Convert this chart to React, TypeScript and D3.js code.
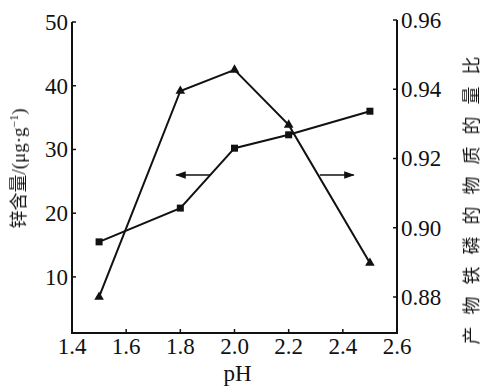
import React from "react";
import * as d3 from "d3";

const pH = [1.5, 1.8, 2.0, 2.2, 2.5];
const zinc = [15.5, 20.8, 30.2, 32.3, 36.0];
const ratio = [0.88, 0.9395, 0.9456, 0.9297, 0.8898];
const xTicks = [1.4, 1.6, 1.8, 2.0, 2.2, 2.4, 2.6];
const leftTicks = [10, 20, 30, 40, 50];
const rightTicks = [0.88, 0.9, 0.92, 0.94, 0.96];
// arrows: [fromPH, toPH, zinc level]
const arrowLeft = [1.91, 1.785, 26.0];
const arrowRight = [2.315, 2.44, 26.0];

const W = 485, H = 388;
const FONT = "'Liberation Serif', 'DejaVu Serif', serif";
const CJK = "'Noto Sans CJK SC', sans-serif";

export default function App() {
  const x = d3.scaleLinear().domain([1.4, 2.6]).range([72, 397]);
  const yL = d3.scaleLinear().domain([1.2, 50]).range([333, 22]);
  const yR = d3.scaleLinear().domain([0.8696, 0.96]).range([333, 20]);

  const lineL = d3.line<number>().x((_, i) => x(pH[i])).y((d) => yL(d));
  const lineR = d3.line<number>().x((_, i) => x(pH[i])).y((d) => yR(d));
  const tri = d3.symbol().type(d3.symbolTriangle).size(40)();

  const bottom = yL.range()[0];
  return (
    <svg width={W} height={H} style={{ position: "absolute", left: 0, top: 0, background: "#fff" }}>
      <defs>
        <marker id="ah" viewBox="0 0 10 10" refX="9" refY="5" markerWidth="7" markerHeight="7" orient="auto">
          <path d="M0,1.5 L10,5 L0,8.5 Z" fill="#111" />
        </marker>
      </defs>
      {/* axes */}
      <line x1={x(1.4)} x2={x(1.4)} y1={bottom} y2={yL(50)} stroke="#111" strokeWidth={2} />
      <line x1={x(2.6)} x2={x(2.6)} y1={bottom} y2={yR(0.96)} stroke="#111" strokeWidth={2} />
      <line x1={x(1.4) - 1} x2={x(2.6) + 1} y1={bottom} y2={bottom} stroke="#111" strokeWidth={2} />
      {xTicks.map((t) => (
        <g key={"x" + t}>
          <line x1={x(t)} x2={x(t)} y1={bottom} y2={bottom - 4} stroke="#111" strokeWidth={1.5} />
          <text x={x(t)} y={354} textAnchor="middle" fontFamily={FONT} fontSize={23} fill="#111">
            {t.toFixed(1)}
          </text>
        </g>
      ))}
      {leftTicks.map((t) => (
        <g key={"l" + t}>
          <line x1={x(1.4)} x2={x(1.4) + 4} y1={yL(t)} y2={yL(t)} stroke="#111" strokeWidth={1.5} />
          <text x={68} y={yL(t) + 8} textAnchor="end" fontFamily={FONT} fontSize={23} fill="#111">
            {t}
          </text>
        </g>
      ))}
      {rightTicks.map((t) => (
        <g key={"r" + t}>
          <line x1={x(2.6)} x2={x(2.6) - 4} y1={yR(t)} y2={yR(t)} stroke="#111" strokeWidth={1.5} />
          <text x={401} y={yR(t) + 8} textAnchor="start" fontFamily={FONT} fontSize={23} fill="#111">
            {t.toFixed(2)}
          </text>
        </g>
      ))}
      <text x={(x(1.4) + x(2.6)) / 2 + 3} y={381} textAnchor="middle" fontFamily={FONT} fontSize={23} fill="#111">
        pH
      </text>
      <g opacity={0.99}>
        <text
          transform={`translate(25,${(90 + 247) / 2}) rotate(-90)`}
          textAnchor="middle"
          fontFamily={CJK}
          fontSize={18}
          fill="#111"
        >
          锌含量<tspan fontFamily={FONT} fontSize={19}>/(μg·g</tspan>
          <tspan dy={-7} fontFamily={FONT} fontSize={12}>−1</tspan>
          <tspan dy={7} fontFamily={FONT} fontSize={19}>)</tspan>
        </text>
        <text
          transform={`translate(478,${(47 + 340) / 2 + 1}) rotate(-90)`}
          textAnchor="middle"
          fontFamily={CJK}
          fontSize={18}
          letterSpacing={12}
          fill="#111"
        >
          产物铁磷的物质的量比
        </text>
      </g>
      {/* series */}
      <path d={lineL(zinc) || ""} fill="none" stroke="#111" strokeWidth={2} />
      <path d={lineR(ratio) || ""} fill="none" stroke="#111" strokeWidth={2} />
      {zinc.map((v, i) => (
        <rect key={"s" + i} x={x(pH[i]) - 3.5} y={yL(v) - 3.5} width={7} height={7} fill="#111" />
      ))}
      {ratio.map((v, i) => (
        <path key={"t" + i} d={tri || ""} transform={`translate(${x(pH[i])},${yR(v)})`} fill="#111" />
      ))}
      {/* arrows */}
      {[arrowLeft, arrowRight].map((a, i) => (
        <line
          key={"a" + i}
          x1={x(a[0])}
          x2={x(a[1])}
          y1={yL(a[2])}
          y2={yL(a[2])}
          stroke="#111"
          strokeWidth={1.5}
          markerEnd="url(#ah)"
        />
      ))}
    </svg>
  );
}
